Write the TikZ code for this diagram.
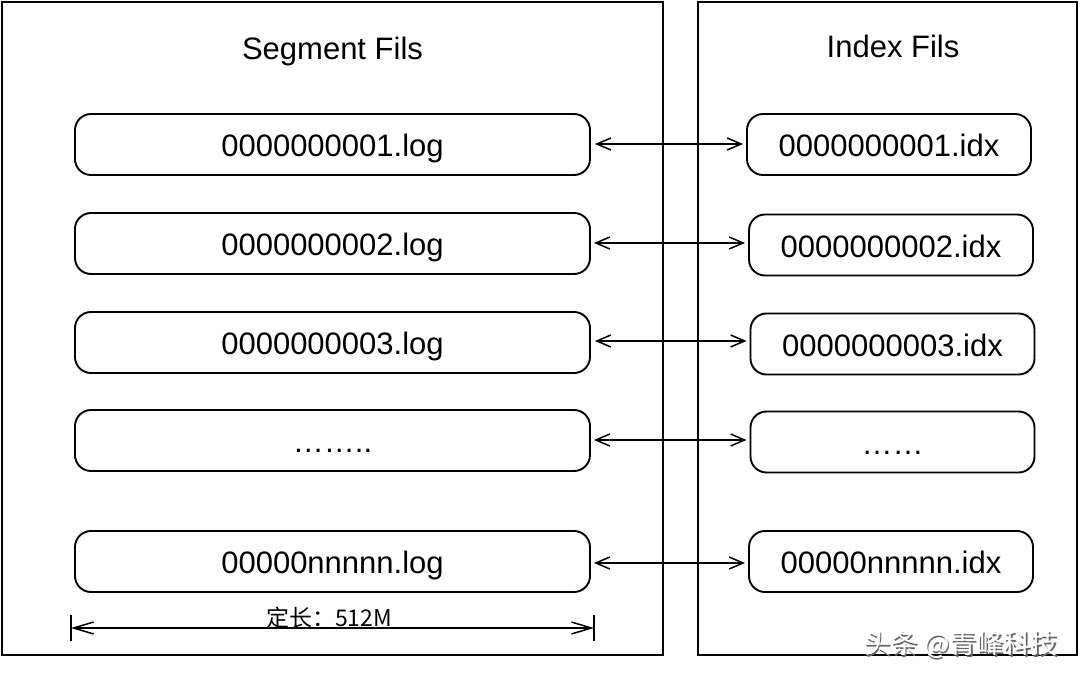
\documentclass[tikz,border=0pt]{standalone}
\usepackage{fontspec}
\setmainfont{Liberation Sans}
\newfontfamily\cjk{Noto Sans CJK SC}
\usetikzlibrary{arrows.meta}
\begin{document}
\begin{tikzpicture}[x=1pt,y=-1pt,
  panel/.style={draw,line width=2pt},
  filebox/.style={draw,line width=1.9pt,rounded corners=16pt,minimum height=61pt,inner sep=0pt},
  fname/.style={anchor=base,inner sep=0pt,font=\fontsize{31}{33}\selectfont},
  title/.style={anchor=base,inner sep=0pt,font=\fontsize{31}{33}\selectfont},
  link/.style={line width=1.5pt,{Straight Barb[length=14pt,width=12pt]}-{Straight Barb[length=14pt,width=12pt]}},
  dim/.style={line width=1.5pt,{Straight Barb[length=20pt,width=12pt]}-{Straight Barb[length=20pt,width=12pt]}}]
\useasboundingbox (0,0) rectangle (1080,679);
\fill[white] (0,0) rectangle (1080,679);
% panels
\draw[panel] (2,2) rectangle (663,655);
\draw[panel] (698,2) rectangle (1077,655);
\node[title] (segt) at (332.5,60) {Segment Fils};
\node[title] (idxt) at (893,58) {Index Fils};
% segment files
\node[filebox,minimum width=515pt] (l1) at (332.5,144.5) {};
\node[filebox,minimum width=515pt] (l2) at (332.5,243.5) {};
\node[filebox,minimum width=515pt] (l3) at (332.5,342.5) {};
\node[filebox,minimum width=515pt] (l4) at (332.5,440.5) {};
\node[filebox,minimum width=515pt] (l5) at (332.5,561.5) {};
\node[fname] (l1t) at (332.5,157) {0000000001.log};
\node[fname] (l2t) at (332.5,256) {0000000002.log};
\node[fname] (l3t) at (332.5,355) {0000000003.log};
\node[fname] (l4t) at (332.5,452) {……..};
\node[fname] (l5t) at (332.5,573.5) {00000nnnnn.log};
% index files
\node[filebox,minimum width=284pt] (r1) at (889,144.5) {};
\node[filebox,minimum width=284pt] (r2) at (891,245) {};
\node[filebox,minimum width=284pt] (r3) at (892.5,344) {};
\node[filebox,minimum width=284pt] (r4) at (892.5,442) {};
\node[filebox,minimum width=284pt] (r5) at (891,561.5) {};
\node[fname] (r1t) at (889,157) {0000000001.idx};
\node[fname] (r2t) at (891,257.5) {0000000002.idx};
\node[fname] (r3t) at (892.5,356.5) {0000000003.idx};
\node[fname] (r4t) at (892.5,454) {……};
\node[fname] (r5t) at (891,573.5) {00000nnnnn.idx};
% links
\draw[link] ([xshift=4pt,yshift=0.5pt]l1.east) -- ([xshift=-3pt,yshift=0.5pt]l1.east -| r1.west);
\draw[link] ([xshift=3pt,yshift=0.5pt]l2.east) -- ([xshift=-3pt,yshift=0.5pt]l2.east -| r2.west);
\draw[link] ([xshift=4pt,yshift=1.5pt]l3.east) -- ([xshift=-3pt,yshift=1.5pt]l3.east -| r3.west);
\draw[link] ([xshift=3pt,yshift=0.5pt]l4.east) -- ([xshift=-3pt,yshift=0.5pt]l4.east -| r4.west);
\draw[link] ([xshift=3pt,yshift=-1.5pt]l5.east) -- ([xshift=-3pt,yshift=-1.5pt]l5.east -| r5.west);
% dimension
\coordinate (da) at (71,628);
\coordinate (db) at (594,628);
\draw[line width=1.5pt] (71,615) -- (71,641);
\draw[line width=1.5pt] (594,615) -- (594,641);
\draw[dim] (da) -- (db);
\node[font=\cjk\fontsize{23}{25}\selectfont,inner sep=0pt] (dlab) at (329,618) {定长：512M};
% watermark
\node[font=\cjk\fontsize{27}{29}\selectfont,text=black!60,inner sep=0pt] (wm1) at (962.5,646) {头条 @青峰科技};
\node[font=\cjk\fontsize{27}{29}\selectfont,text=white,inner sep=0pt] (wm) at (961,644.5) {头条 @青峰科技};
\end{tikzpicture}
\end{document}
